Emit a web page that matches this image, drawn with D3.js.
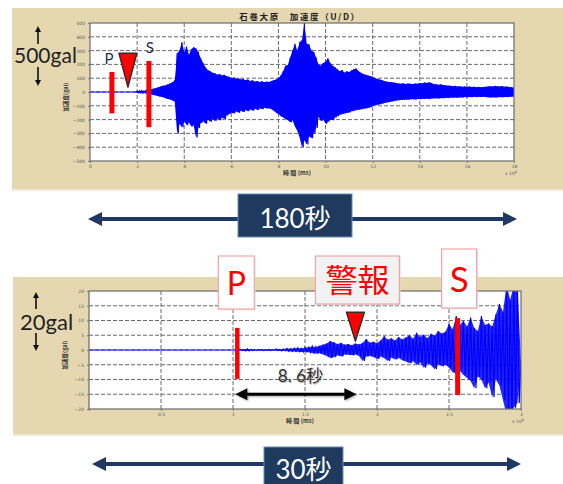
<!DOCTYPE html>
<html><head><meta charset="utf-8">
<script src="https://cdn.jsdelivr.net/npm/d3@7"></script>
<style>body{margin:0;background:#fff}svg{display:block}</style>
</head><body>
<svg id="c" width="563" height="484"></svg>
<script>
// ---------------- DATA ----------------
// Top record: 180 s, one envelope sample per second (gal)
const topSampleSec = 1;
const topMax = [0,0,0,0,0,0,0,0,0,0,0,0,0,0,0,0,0,0,0,0,
 5,8,10,7,12,15,20,25,28,34,
 40,45,48,55,62,70,85,280,300,360,
 290,330,270,310,325,315,290,245,210,180,
 160,150,140,135,125,130,120,125,115,110,
 100,105,95,100,90,95,85,90,80,85,
 75,80,72,78,70,75,72,80,85,90,
 100,120,150,190,195,250,300,350,300,360,
 375,500,350,345,300,290,250,200,190,210,
 220,245,210,190,180,165,150,160,140,150,
 145,155,165,170,150,140,130,125,120,115,
 110,100,95,90,85,80,75,72,70,68,
 65,62,60,63,58,62,60,57,62,60,
 65,62,68,66,70,64,58,55,52,55,
 50,48,46,45,42,44,40,42,38,40,
 37,39,36,38,35,37,34,36,38,40,
 42,40,44,42,40,43,38,40,36,35,
 30];
const topMin = [0,0,0,0,0,0,0,0,0,0,0,0,0,0,0,0,0,0,0,0,
 -5,-6,-8,-6,-10,-12,-18,-22,-25,-30,
 -35,-38,-45,-50,-55,-62,-70,-300,-230,-255,
 -210,-240,-220,-250,-240,-330,-260,-225,-210,-230,
 -200,-215,-195,-210,-190,-205,-185,-195,-170,-160,
 -150,-155,-140,-150,-135,-145,-130,-140,-125,-135,
 -120,-130,-118,-125,-115,-120,-118,-125,-135,-150,
 -160,-175,-185,-195,-205,-220,-205,-250,-280,-330,
 -400,-350,-380,-320,-335,-300,-260,-180,-210,-200,
 -230,-215,-200,-205,-185,-175,-165,-160,-155,-150,
 -148,-140,-135,-130,-128,-125,-122,-120,-115,-110,
 -100,-95,-92,-88,-83,-80,-75,-72,-68,-65,
 -62,-60,-58,-57,-55,-56,-53,-52,-54,-50,
 -52,-49,-50,-48,-50,-47,-46,-45,-47,-44,
 -45,-42,-44,-40,-42,-40,-41,-38,-40,-37,
 -38,-36,-38,-35,-37,-35,-36,-34,-37,-38,
 -40,-38,-40,-38,-37,-38,-36,-37,-35,-34,
 -30];
// Bottom record: 30 s, one envelope sample per 0.25 s (gal)
const botSampleSec = 0.25;
const botMax = [0,0,0,0,0,0,0,0,0,0,0,0,0,0,0,0,0,0,0,0,0,0,0,0,0,0,0,0,0,0,0,0,0,0,0,0,0,0,0,0,0,0,
 0.3,0.2,0.4,0.2,0.1,0.1,0.2,0.1,0.2,0.1,0.3,0.2,0.3,0.5,0.4,0.6,0.7,0.5,0.8,0.9,
 1.2,1.0,1.4,1.8,2.2,3.0,2.6,2.0,2.4,1.8,2.0,1.6,2.2,1.9,2.4,3.7,2.5,2.8,2.3,3.2,
 4.7,3.5,4.0,3.2,4.4,3.6,4.2,5.0,3.8,5.8,4.5,5.2,4.0,5.5,4.8,6.4,5.6,6.2,8.8,7.0,
 11.5,8.5,9.8,8.0,11.0,7.5,6.4,11.5,8.5,9.0,8.0,12.0,15.6,13.0,22,17,22,22,-4.0];
const botMin = [0,0,0,0,0,0,0,0,0,0,0,0,0,0,0,0,0,0,0,0,0,0,0,0,0,0,0,0,0,0,0,0,0,0,0,0,0,0,0,0,0,0,
 -0.2,-0.3,-0.3,-0.2,-0.1,-0.1,-0.2,-0.1,-0.2,-0.1,-0.2,-0.3,-0.2,-0.4,-0.5,-0.5,-0.6,-0.7,-0.6,-0.8,
 -1.0,-1.2,-1.1,-1.5,-2.0,-2.7,-2.4,-1.8,-2.2,-1.5,-1.6,-1.8,-1.5,-2.0,-3.7,-2.2,-2.0,-2.4,-3.0,-2.2,
 -2.8,-3.7,-2.5,-3.2,-2.7,-3.5,-3.9,-4.5,-3.8,-5.0,-4.2,-6.0,-4.6,-5.2,-6.5,-4.8,-5.5,-5.0,-6.0,-7.5,
 -8.0,-7.0,-8.5,-9.5,-10.5,-13.0,-9.0,-10.0,-13.0,-11.0,-16.0,-10.0,-12.0,-17.0,-22,-22,-19.6,-18.0,-5.0];

const topYTicks = [500,400,300,200,100,0,-100,-200,-300,-400,-500];
const topXTicks = [0,2,4,6,8,10,12,14,16,18];          // x10^4 ms
const topXLabels = ["0","2","4","6","8","10","12","14","16","18"];
const botYTicks = [20,15,10,5,0,-5,-10,-15,-20];
const botXTicks = [0,0.5,1,1.5,2,2.5,3];                // x10^4 ms
const botXLabels = ["","0.5","1","1.5","2","2.5","3"];

// phase marks (x10^4 ms) and bar extents (gal)
const topPhase = {p:0.93, alert:1.61, s:2.5};
const topPBar = [145,-155], topSBar = [225,-255];
const botPhase = {p:1.03, alert:1.85, s:2.56};
const botPBar = [7.5,-9.8], botSBar = [10.8,-15.3];

const titleText = "石巻大原　加速度（U/D）";
const yAxisText = "加速度(gal)";
const xAxisText = "時 間 (ms)";

// ---------------- DRAW ----------------
const svg = d3.select("#c");
const LAT = "Lato,'Noto Sans CJK JP',sans-serif";
const CJK = "'Noto Sans CJK JP',sans-serif";
const BEIGE = "#e5d8b1", NAVY = "#1f3864", RED = "#ff0000";

function panel(o){
  const g = svg.append("g");
  g.append("rect").attr("x",o.bg[0]).attr("y",o.bg[1]).attr("width",o.bg[2]).attr("height",o.bg[3]).attr("fill",BEIGE);
  g.append("rect").attr("x",o.bg[0]).attr("y",o.bg[1]+o.bg[3]).attr("width",o.bg[2]).attr("height",2).attr("fill","#f1ead6");
  const [px0,px1,py0,py1] = o.plot;
  const x = d3.scaleLinear().domain(o.xDomain).range([px0,px1]);
  const y = d3.scaleLinear().domain(o.yDomain).range([py1,py0]);
  g.append("rect").attr("x",px0).attr("y",py0).attr("width",px1-px0).attr("height",py1-py0).attr("fill","#fff");
  // grid
  g.append("g").selectAll("line").data(o.yTicks.slice(1,-1)).join("line")
    .attr("x1",px0).attr("x2",px1).attr("y1",d=>y(d)).attr("y2",d=>y(d))
    .attr("stroke","#5a5a5a").attr("stroke-width",0.9).attr("stroke-dasharray","4,2");
  g.append("g").selectAll("line").data(o.xTicks.slice(1,-1)).join("line")
    .attr("y1",py0).attr("y2",py1).attr("x1",d=>x(d)).attr("x2",d=>x(d))
    .attr("stroke","#5a5a5a").attr("stroke-width",0.9).attr("stroke-dasharray","4,2");
  // waveform: filled envelope + oscillating trace
  const cid = "clip"+o.id;
  svg.append("clipPath").attr("id",cid).append("rect").attr("x",px0).attr("y",py0).attr("width",px1-px0).attr("height",py1-py0);
  const wg = g.append("g").attr("clip-path",`url(#${cid})`);
  if (o.fillOpacity > 0) {
    wg.append("path")
      .attr("d", d3.area().x((d,i)=>x(i*o.step)).y0((d,i)=>y(o.mins[i])).y1(d=>y(d))(o.maxs))
      .attr("fill","#0000ff").attr("fill-opacity",o.fillOpacity);
  }
  const pts = [];
  o.maxs.forEach((m,i)=>{ pts.push([i*o.step, m]); pts.push([i*o.step+o.step/2, o.mins[i]]); });
  wg.append("path")
    .attr("d", d3.line().x(d=>x(d[0])).y(d=>y(d[1]))(pts))
    .attr("fill","none").attr("stroke","#0000ff").attr("stroke-width",o.sw);
  // frame
  g.append("rect").attr("x",px0).attr("y",py0).attr("width",px1-px0).attr("height",py1-py0)
    .attr("fill","none").attr("stroke","#6b6b6b").attr("stroke-width",1.2);
  // axes
  const ay = g.append("g").attr("transform",`translate(${px0},0)`)
    .call(d3.axisLeft(y).tickValues(o.yTicks).tickSize(2).tickPadding(3).tickFormat(d3.format("d")));
  const ax = g.append("g").attr("transform",`translate(0,${py1})`)
    .call(d3.axisBottom(x).tickValues(o.xTicks).tickSize(2).tickPadding(1.5).tickFormat((d,i)=>o.xLabels[i]));
  [ay,ax].forEach(a=>{
    a.select(".domain").remove();
    a.selectAll("line").attr("stroke","#777");
    a.selectAll("text").attr("font-size",4.5).attr("fill","#555").attr("font-family","DejaVu Sans");
  });
  // axis titles
  g.append("text").attr("x",(px0+px1)/2-5).attr("y",py1+14).attr("text-anchor","middle")
    .attr("font-size",6).attr("font-weight","bold").attr("font-family",CJK).attr("fill","#333").text(xAxisText);
  const ex = g.append("text").attr("x",px1-9).attr("y",py1+14).attr("font-size",4.5).attr("fill","#555").attr("font-family","DejaVu Sans");
  ex.append("tspan").text("x 10");
  ex.append("tspan").attr("dy",-2).attr("font-size",3.5).text("4");
  g.append("text").attr("transform",`translate(${px0-22},${(py0+py1)/2+5}) rotate(-90)`)
    .attr("text-anchor","middle").attr("font-size",5.5).attr("font-weight","bold").attr("font-family",CJK).attr("fill","#333").text(yAxisText);
  return {x,y,g};
}

function hArrow(x1,x2,yy,color,w,hl,hh){
  const g = svg.append("g");
  g.append("line").attr("x1",x1+hl-1).attr("x2",x2-hl+1).attr("y1",yy).attr("y2",yy).attr("stroke",color).attr("stroke-width",w);
  g.append("path").attr("d",`M${x1},${yy}L${x1+hl},${yy-hh}L${x1+hl},${yy+hh}Z`).attr("fill",color);
  g.append("path").attr("d",`M${x2},${yy}L${x2-hl},${yy-hh}L${x2-hl},${yy+hh}Z`).attr("fill",color);
  return g;
}
function vArrow(xx,yTail,yTip){
  const dir = yTip<yTail?1:-1;
  svg.append("line").attr("x1",xx).attr("x2",xx).attr("y1",yTail).attr("y2",yTip+dir*5).attr("stroke","#111").attr("stroke-width",1.6);
  svg.append("path").attr("d",`M${xx},${yTip}L${xx-3},${yTip+dir*6}L${xx+3},${yTip+dir*6}Z`).attr("fill","#111");
}
function tri(cx,apexY,h,hw){
  svg.append("path").attr("d",`M${cx-hw},${apexY-h}L${cx+hw},${apexY-h}L${cx},${apexY}Z`)
    .attr("fill",RED).attr("stroke","#3a2a2a").attr("stroke-width",1.5).attr("stroke-linejoin","round");
}
function labelBox(cx,y0,w,h,txt,fs,fam,bl,fill){
  svg.append("rect").attr("x",cx-w/2+1.5).attr("y",y0+1.5).attr("width",w).attr("height",h).attr("fill","#d8d8d8").attr("opacity",0.6);
  svg.append("rect").attr("x",cx-w/2).attr("y",y0).attr("width",w).attr("height",h).attr("fill",fill).attr("stroke","#f3a3a3").attr("stroke-width",1.2);
  svg.append("text").attr("x",cx).attr("y",bl).attr("text-anchor","middle").attr("font-size",fs).attr("font-family",fam).attr("fill",RED).text(txt);
}
function navyBox(x0,y0,w,h,txt,bl){
  svg.append("rect").attr("x",x0).attr("y",y0).attr("width",w).attr("height",h).attr("fill","#1e3a5f").attr("stroke","#6d8bb3").attr("stroke-width",1);
  svg.append("text").attr("x",x0+w/2).attr("y",bl).attr("text-anchor","middle").attr("font-size",26).attr("font-family",LAT).attr("fill","#fff").text(txt);
}

// ---- top panel ----
const T = panel({id:"t", bg:[12,8,551,181], plot:[90,514,23,161], xDomain:[0,18], yDomain:[-500,500],
  xTicks:topXTicks, xLabels:topXLabels, yTicks:topYTicks, maxs:topMax, mins:topMin, step:topSampleSec/10, sw:1.2, fillOpacity:1});
svg.append("text").attr("x",300).attr("y",20).attr("text-anchor","middle").attr("font-size",8.5).attr("letter-spacing",1.6)
  .attr("font-weight","bold").attr("font-family",CJK).attr("fill","#222").text(titleText);
[[topPhase.p,topPBar],[topPhase.s,topSBar]].forEach(([t,b])=>{
  svg.append("rect").attr("x",T.x(t)-2.5).attr("y",T.y(b[0])).attr("width",5).attr("height",T.y(b[1])-T.y(b[0])).attr("fill",RED);
});
tri(T.x(topPhase.alert), T.y(35), 34, 9);
svg.append("text").attr("x",T.x(topPhase.p)-3).attr("y",64).attr("text-anchor","middle").attr("font-size",15).attr("font-family",LAT).attr("fill","#1f2f4f").text("P");
svg.append("text").attr("x",T.x(topPhase.s)+1).attr("y",53).attr("text-anchor","middle").attr("font-size",15).attr("font-family",LAT).attr("fill","#1f2f4f").text("S");
svg.append("text").attr("x",14).attr("y",63).attr("font-size",21).attr("font-family",LAT).attr("fill","#222").text("500gal");
vArrow(38,44,26); vArrow(38,67,86);

hArrow(88,517,219,NAVY,4,14,7);
navyBox(238,194,114,43,"180秒",228);

// ---- bottom panel ----
const B = panel({id:"b", bg:[13,277,550,157], plot:[89,521,291,409], xDomain:[0,3], yDomain:[-20,20],
  xTicks:botXTicks, xLabels:botXLabels, yTicks:botYTicks, maxs:botMax, mins:botMin, step:botSampleSec/10, sw:1.2, fillOpacity:0.85});
[[botPhase.p,botPBar,4.5],[botPhase.s,botSBar,5]].forEach(([t,b,w])=>{
  svg.append("rect").attr("x",B.x(t)-w/2).attr("y",B.y(b[0])).attr("width",w).attr("height",B.y(b[1])-B.y(b[0])).attr("fill",RED);
});
tri(B.x(botPhase.alert), B.y(3), 29, 9);
labelBox(B.x(botPhase.p)-1,256,36,53,"P",32,LAT,295,"#fff");
labelBox(B.x(botPhase.alert)+2,256,84,48,"警報",32,CJK,292,"#f2f2f2");
labelBox(B.x(botPhase.s)+1.5,249,35,59,"S",35,LAT,292,"#fff");
// 8.6 s arrow
const arr = hArrow(B.x(botPhase.p)-2, B.x(botPhase.alert)+1, B.y(-15), "#000", 3, 12, 6);
arr.attr("style","filter:drop-shadow(1px 1px 1px rgba(0,0,0,0.35))");
svg.append("text").attr("x",(B.x(botPhase.p)+B.x(botPhase.alert))/2+4).attr("y",382).attr("text-anchor","middle")
  .attr("font-size",17).attr("font-family",LAT).attr("fill","#333")
  .attr("style","text-shadow:1px 1px 1px rgba(0,0,0,0.3)").text("8. 6秒");
svg.append("text").attr("x",20).attr("y",330).attr("font-size",22).attr("font-family",LAT).attr("fill","#222").text("20gal");
vArrow(36,309,292); vArrow(36,333,351);

hArrow(92,521,464,NAVY,4,14,7);
navyBox(264,447,79,45,"30秒",479);
</script>
</body></html>
